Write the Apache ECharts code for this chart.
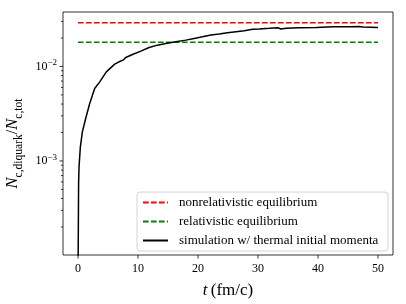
<!DOCTYPE html>
<html><head><meta charset="utf-8">
<script src="https://cdn.jsdelivr.net/npm/echarts@6/dist/echarts.min.js"></script>
<style>html,body{margin:0;padding:0;background:#fff}#c{width:406px;height:304px}</style>
</head><body><div id="c"></div>
<script>
// ---- data ----
const seriesNames = ['nonrelativistic equilibrium', 'relativistic equilibrium', 'simulation w/ thermal initial momenta'];
const tEq = [0, 50];
const nonrelEq = [0.029, 0.029];
const relEq = [0.018, 0.018];
const tSim = [0, 0.1, 0.17, 0.39, 0.72, 1.28, 1.95, 2.78, 3.62, 4.72, 6.12, 6.84, 7.51, 7.96, 9.07, 10.47, 11.85, 13.24, 14.64, 16.31, 17.98, 19.37, 20.75, 22.15, 23.54, 24.92, 26.33, 27.72, 29.1, 30.2, 31.9, 33.3, 33.8, 34.7, 36.9, 39.7, 42.5, 45.2, 46.9, 47.5, 50];
const vSim = [0.00005, 0.00058, 0.00086, 0.0014, 0.00202, 0.00281, 0.00406, 0.00585, 0.00687, 0.00877, 0.01057, 0.0112, 0.01166, 0.01245, 0.0134, 0.01452, 0.01589, 0.01681, 0.01753, 0.01824, 0.0190, 0.0198, 0.0206, 0.0215, 0.0220, 0.0227, 0.0233, 0.0239, 0.0247, 0.0249, 0.0253, 0.0257, 0.0249, 0.0253, 0.0257, 0.0259, 0.0263, 0.0263, 0.0265, 0.0261, 0.0259];
const xTicks = [0, 10, 20, 30, 40, 50];
const yMajorTicks = [0.001, 0.01];
const yMinorTicks = [2e-4, 3e-4, 4e-4, 5e-4, 6e-4, 7e-4, 8e-4, 9e-4, 2e-3, 3e-3, 4e-3, 5e-3, 6e-3, 7e-3, 8e-3, 9e-3, 2e-2, 3e-2];
const xRange = [-2.5, 52.5];
const yRange = [1.01e-4, 0.0377];

const FF = 'Liberation Serif';
const zip = (a, b) => a.map((x, i) => [x, b[i]]);
const chart = echarts.init(document.getElementById('c'), null, {renderer: 'canvas'});
const yLab = v => {
  const e = Math.round(Math.log10(v));
  return '{b|10}{s|\u2212' + Math.abs(e) + '}';
};
// tick marks drawn through the axes' own scales
const tickSeries = (data, dir) => ({
  type: 'custom', silent: true, z: 5, clip: false,
  data: data,
  renderItem: (params, api) => {
    const p = api.coord([api.value(0), api.value(1)]);
    const len = api.value(2);
    const shape = dir === 'x'
      ? {x1: p[0], y1: p[1], x2: p[0], y2: p[1] + len}
      : {x1: p[0], y1: p[1], x2: p[0] - len, y2: p[1]};
    return {type: 'line', shape: shape, style: {stroke: '#000', lineWidth: 0.8}};
  }
});
chart.setOption({
  animation: false,
  grid: {left: 63, right: 13, top: 12, bottom: 49, show: true, borderColor: '#000', borderWidth: 0.8, outerBoundsMode: 'none'},
  xAxis: {
    type: 'value', min: xRange[0], max: xRange[1],
    axisLine: {show: false},
    axisTick: {show: false},
    axisLabel: {customValues: xTicks, margin: 8, color: '#000', fontFamily: FF, fontSize: 12},
    splitLine: {show: false},
    name: '{i|t} {r|(fm/c)}', nameLocation: 'middle', nameGap: 27,
    nameTextStyle: {color: '#000', rich: {
      i: {fontFamily: FF, fontSize: 17, fontStyle: 'italic', color: '#000'},
      r: {fontFamily: FF, fontSize: 17, color: '#000'}
    }}
  },
  yAxis: {
    type: 'log', logBase: 10, min: yRange[0], max: yRange[1],
    axisLine: {show: false},
    axisTick: {show: false},
    axisLabel: {customValues: yMajorTicks, margin: 6, formatter: yLab, rich: {
      b: {fontFamily: FF, fontSize: 12, color: '#000', lineHeight: 16},
      s: {fontFamily: FF, fontSize: 9, color: '#000', verticalAlign: 'top', lineHeight: 8}
    }},
    splitLine: {show: false},
    name: '{n|N}{s|c,diquark}{m|/}{n|N}{s|c,tot}', nameLocation: 'middle', nameGap: 31, nameRotate: 90,
    nameTextStyle: {color: '#000', padding: [0, 20, 0, 0], rich: {
      n: {fontFamily: FF, fontSize: 16.5, fontStyle: 'italic', color: '#000', lineHeight: 24},
      m: {fontFamily: FF, fontSize: 16.5, color: '#000', lineHeight: 24},
      s: {fontFamily: FF, fontSize: 11.5, color: '#000', verticalAlign: 'bottom', lineHeight: 14}
    }}
  },
  legend: {
    orient: 'vertical', left: 137, top: 192,
    itemWidth: 25, itemHeight: 10, itemGap: 6,
    padding: [4, 5, 4, 5],
    backgroundColor: 'rgba(255,255,255,0.8)',
    borderColor: '#d4d4d4', borderWidth: 1, borderRadius: 3,
    selectedMode: false,
    itemStyle: {opacity: 0},
    textStyle: {fontFamily: FF, fontSize: 13, lineHeight: 12, color: '#000', padding: [0, 0, 0, 6], width: 204},
    data: seriesNames
  },
  series: [
    {name: seriesNames[0], type: 'line', data: zip(tEq, nonrelEq), symbol: 'none', showSymbol: false, lineStyle: {color: '#ff0000', width: 1.5, type: [5.6, 2.4]}, itemStyle: {color: '#ff0000'}},
    {name: seriesNames[1], type: 'line', data: zip(tEq, relEq), symbol: 'none', showSymbol: false, lineStyle: {color: '#008000', width: 1.5, type: [5.6, 2.4]}, itemStyle: {color: '#008000'}},
    {name: seriesNames[2], type: 'line', data: zip(tSim, vSim), symbol: 'none', showSymbol: false, lineStyle: {color: '#000', width: 1.5}, itemStyle: {color: '#000'}},
    tickSeries(xTicks.map(t => [t, yRange[0], 3.5]), 'x'),
    tickSeries(yMajorTicks.map(v => [xRange[0], v, 3.5]), 'y'),
    tickSeries(yMinorTicks.map(v => [xRange[0], v, 2]), 'y')
  ]
});
</script></body></html>
